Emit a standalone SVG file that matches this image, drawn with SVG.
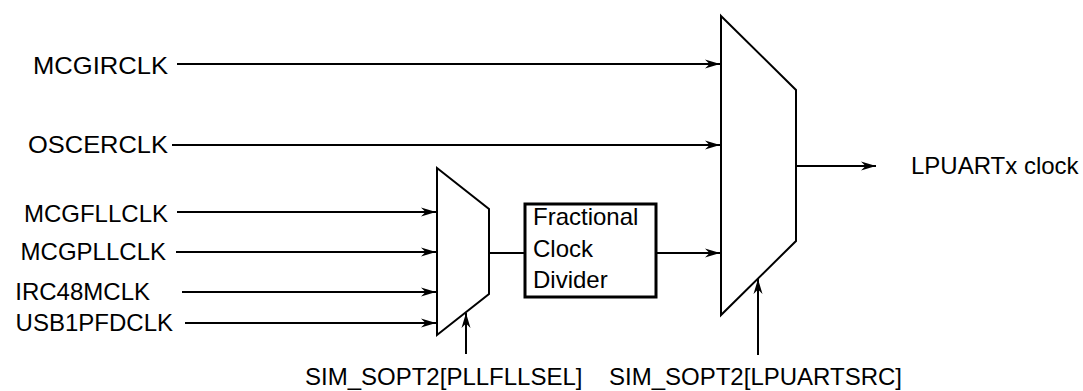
<svg xmlns="http://www.w3.org/2000/svg" width="1083" height="391" viewBox="0 0 1083 391">
<style>
text{font-family:"Liberation Sans",Arial,sans-serif;font-size:24px;fill:#000}
.w{stroke:#000;stroke-width:2;fill:none}
.m{stroke:#000;stroke-width:2;fill:#fff;stroke-linejoin:miter}
.e{text-anchor:end}
</style>
<defs>
<marker id="a" viewBox="-16 -5 17 10" refX="0" refY="0" markerWidth="17" markerHeight="10" markerUnits="userSpaceOnUse" orient="auto">
<path d="M0,0 L-15,-4.5 L-10.5,0 L-15,4.5 Z" fill="#000"/>
</marker>
</defs>
<rect width="1083" height="391" fill="#fff"/>
<g id="connectors">
<line class="w" x1="177" y1="64" x2="720" y2="64" marker-end="url(#a)"/>
<line class="w" x1="172" y1="145" x2="720" y2="145" marker-end="url(#a)"/>
<line class="w" x1="177" y1="212" x2="436" y2="212" marker-end="url(#a)"/>
<line class="w" x1="176" y1="252" x2="436" y2="252" marker-end="url(#a)"/>
<line class="w" x1="182" y1="292" x2="436" y2="292" marker-end="url(#a)"/>
<line class="w" x1="185" y1="323" x2="436" y2="323" marker-end="url(#a)"/>
<line class="w" x1="489" y1="253" x2="525" y2="253"/>
<line class="w" x1="656" y1="253" x2="720" y2="253" marker-end="url(#a)"/>
<line class="w" x1="796" y1="166" x2="876" y2="166" marker-end="url(#a)"/>
<line class="w" x1="466" y1="354" x2="466" y2="313" marker-end="url(#a)"/>
<line class="w" x1="758" y1="355" x2="758" y2="279" marker-end="url(#a)"/>
</g>
<g id="labels">
<text x="33" y="74" textLength="135" lengthAdjust="spacingAndGlyphs">MCGIRCLK</text>
<text x="28" y="153" textLength="140" lengthAdjust="spacingAndGlyphs">OSCERCLK</text>
<text class="e" x="168" y="222">MCGFLLCLK</text>
<text class="e" x="166" y="260">MCGPLLCLK</text>
<text class="e" x="150" y="300">IRC48MCLK</text>
<text class="e" x="173" y="331">USB1PFDCLK</text>
</g>
<g id="mux1">
<path class="m" d="M437,168 L489,209 L489,294 L437,335 Z"/>
</g>
<g id="divider">
<rect x="525" y="204" width="131" height="93" fill="#fff" stroke="#000" stroke-width="3"/>
<text x="533" y="225">Fractional</text>
<text x="533" y="257">Clock</text>
<text x="533" y="288">Divider</text>
</g>
<g id="mux2">
<path class="m" d="M721,16 L796,90 L796,241 L721,315 Z"/>
</g>
<g id="output">
<text x="911" y="174">LPUARTx clock</text>
</g>
<g id="sel1">
<text x="305" y="385">SIM_SOPT2[PLLFLLSEL]</text>
</g>
<g id="sel2">
<text x="609" y="385">SIM_SOPT2[LPUARTSRC]</text>
</g>
</svg>
